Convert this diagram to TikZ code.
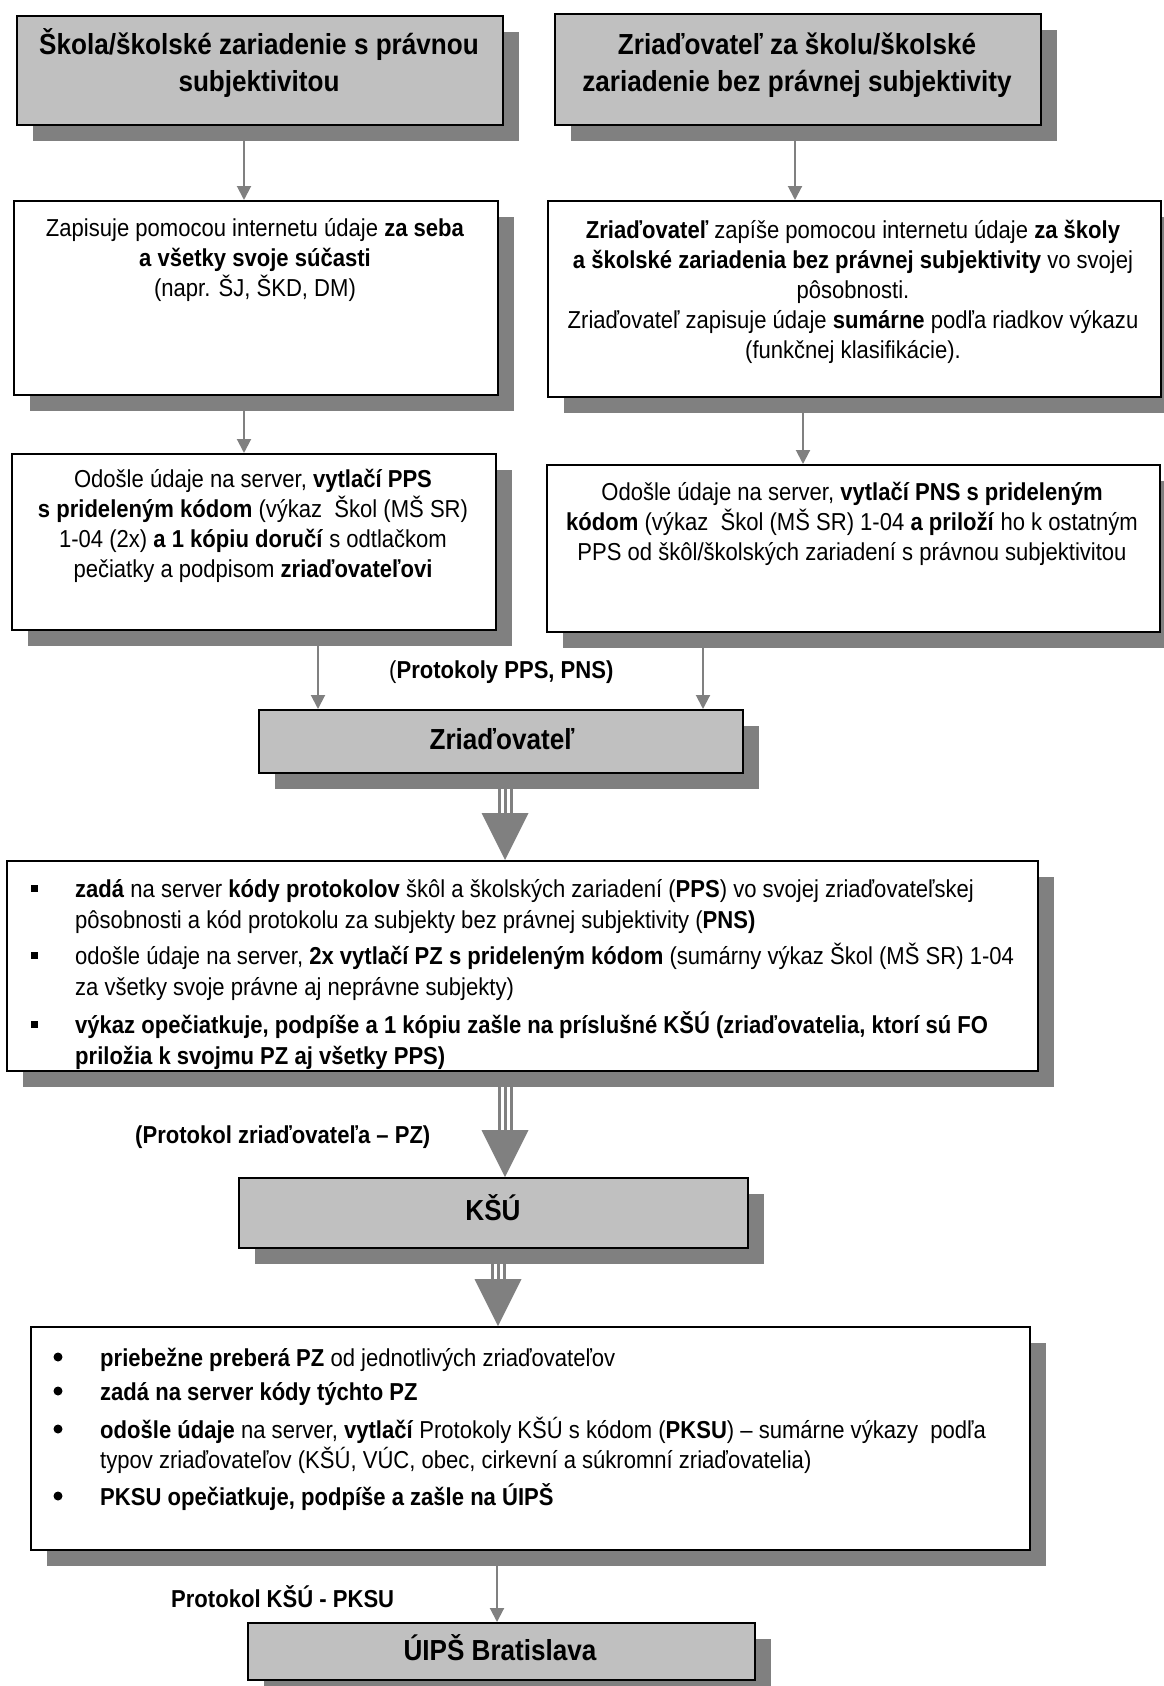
\documentclass[tikz,border=0pt]{standalone}
\usepackage{fontspec}
\setmainfont{Liberation Sans}[FakeStretch=0.9]
\usetikzlibrary{arrows.meta,shadows}
\definecolor{boxgrey}{HTML}{C0C0C0}
\definecolor{shadowgrey}{HTML}{808080}
\tikzset{
  flowbox/.style={draw=black, line width=2pt, anchor=north west, inner sep=0pt,
    drop shadow={shadow xshift=16pt, shadow yshift=-16pt, opacity=1, fill=shadowgrey}},
  greybox/.style={flowbox, fill=boxgrey},
  whitebox/.style={flowbox, fill=white},
  headtext/.style={font=\fontsize{29}{36}\selectfont\bfseries, align=center, anchor=base, inner sep=0pt},
  bodytext/.style={font=\fontsize{24.5}{30}\selectfont, align=center, anchor=base, inner sep=0pt},
  listtext/.style={font=\fontsize{24.5}{31}\selectfont, align=left, anchor=base west, inner sep=0pt},
  arr/.style={draw=shadowgrey, line width=2pt, -{Triangle[width=14pt,length=14pt]}},
  shaft/.style={draw=shadowgrey, line width=3pt},
}
\begin{document}
\begin{tikzpicture}[x=1pt, y=-1pt]
\useasboundingbox (0,0) rectangle (1164,1686);

\node[greybox, minimum width=486pt, minimum height=109pt] (skola) at (16,15) {};
\node[greybox, minimum width=486pt, minimum height=111pt] (zriadB) at (554,13) {};
\node[whitebox, minimum width=484pt, minimum height=194pt] (zapisC) at (13,200) {};
\node[whitebox, minimum width=613pt, minimum height=196pt] (zapisD) at (547,200) {};
\node[whitebox, minimum width=484pt, minimum height=176pt] (odosleE) at (11,453) {};
\node[whitebox, minimum width=613pt, minimum height=167pt] (odosleF) at (546,464) {};
\node[greybox, minimum width=484pt, minimum height=63pt] (zriad) at (258,709) {};
\node[whitebox, minimum width=1031pt, minimum height=210pt] (zadanie) at (6,860) {};
\node[greybox, minimum width=509pt, minimum height=70pt] (ksu) at (238,1177) {};
\node[whitebox, minimum width=999pt, minimum height=223pt] (preberanie) at (30,1326) {};
\node[greybox, minimum width=507pt, minimum height=57pt] (uips) at (247,1622) {};

% multi-line texts sit on the baseline of their last line
\node[headtext] (skolaT) at (259,91) {Škola/školské zariadenie s právnou\\subjektivitou};
\node[headtext] (zriadBT) at (797,91) {Zriaďovateľ za školu/školské\\zariadenie bez právnej subjektivity};

\node[bodytext] (zapisCT) at (255,296) {Zapisuje pomocou internetu údaje \textbf{za seba}\\\textbf{a všetky svoje súčasti}\\(napr. ŠJ, ŠKD, DM)};
\node[bodytext] (zapisDT) at (853,358) {\textbf{Zriaďovateľ} zapíše pomocou internetu údaje \textbf{za školy}\\\textbf{a školské zariadenia bez právnej subjektivity} vo svojej\\pôsobnosti.\\Zriaďovateľ zapisuje údaje \textbf{sumárne} podľa riadkov výkazu\\(funkčnej klasifikácie).};
\node[bodytext] (odosleET) at (253,577) {Odošle údaje na server, \textbf{vytlačí PPS}\\\textbf{s prideleným kódom} (výkaz\ \ Škol (MŠ SR)\\1-04 (2x) \textbf{a 1 kópiu doručí} s odtlačkom\\pečiatky a podpisom \textbf{zriaďovateľovi}};
\node[bodytext] (odosleFT) at (852,560) {Odošle údaje na server, \textbf{vytlačí PNS s prideleným}\\\textbf{kódom} (výkaz\ \ Škol (MŠ SR) 1-04 \textbf{a priloží} ho k ostatným\\PPS od škôl/školských zariadení s právnou subjektivitou};

\node[bodytext, anchor=base west] (ppsT) at (389,678) {(\textbf{Protokoly PPS, PNS)}};
\node[headtext] (zriadT) at (502,749) {Zriaďovateľ};

\begin{scope}
\clip (zadanie.north west) rectangle ([yshift=2pt]zadanie.south east);
\node[listtext] (h1) at (75,928) {\textbf{zadá} na server \textbf{kódy protokolov} škôl a školských zariadení (\textbf{PPS}) vo svojej zriaďovateľskej\\pôsobnosti a kód protokolu za subjekty bez právnej subjektivity (\textbf{PNS)}};
\node[listtext] (h2) at (75,995) {odošle údaje na server, \textbf{2x vytlačí PZ s prideleným kódom} (sumárny výkaz Škol (MŠ SR) 1-04\\za všetky svoje právne aj neprávne subjekty)};
\node[listtext] (h3) at (75,1064) {\textbf{výkaz opečiatkuje, podpíše a 1 kópiu zašle na príslušné KŠÚ (zriaďovatelia, ktorí sú FO}\\\textbf{priložia k svojmu PZ aj všetky PPS)}};
\end{scope}
\foreach \y in {897,964,1033}
  \fill (30.5,\y-12.5) rectangle ++(7,7);

\node[bodytext, anchor=base west, font=\fontsize{24.5}{30}\selectfont\bfseries] (pzT) at (135,1143) {(Protokol zriaďovateľa – PZ)};
\node[headtext] (ksuT) at (493,1220) {KŠÚ};

\node[listtext] (j1) at (100,1366) {\textbf{priebežne preberá PZ} od jednotlivých zriaďovateľov};
\node[listtext] (j2) at (100,1400) {\textbf{zadá na server kódy týchto PZ}};
\node[listtext, font=\fontsize{24.5}{30}\selectfont] (j3) at (100,1468) {\textbf{odošle údaje} na server, \textbf{vytlačí} Protokoly KŠÚ s kódom (\textbf{PKSU}) – sumárne výkazy\ \ podľa\\typov zriaďovateľov (KŠÚ, VÚC, obec, cirkevní a súkromní zriaďovatelia)};
\node[listtext] (j4) at (100,1505) {\textbf{PKSU opečiatkuje, podpíše a zašle na ÚIPŠ}};
\foreach \y in {1366,1400,1438,1505}
  \fill (58,\y-9) circle (4.5);

\node[bodytext, anchor=base west, font=\fontsize{24.5}{30}\selectfont\bfseries] (pksuT) at (171,1607) {Protokol KŠÚ - PKSU};
\node[headtext] (uipsT) at (500,1660) {ÚIPŠ Bratislava};

% thin connectors
\coordinate (xa) at (244,0);
\coordinate (xb) at (795,0);
\coordinate (xd) at (803,0);
\coordinate (xe) at (318,0);
\coordinate (xf) at (703,0);
\coordinate (xj) at (497,0);
\draw[arr] (skola.south -| xa) -- (zapisC.north -| xa);
\draw[arr] (zriadB.south -| xb) -- (zapisD.north -| xb);
\draw[arr] (zapisC.south -| xa) -- (odosleE.north -| xa);
\draw[arr] (zapisD.south -| xd) -- (odosleF.north -| xd);
\draw[arr] (odosleE.south -| xe) -- (zriad.north -| xe);
\draw[arr] (odosleF.south -| xf) -- (zriad.north -| xf);
\draw[arr] (preberanie.south -| xj) -- (uips.north -| xj);

% big striped arrows
\coordinate (xg) at (505,0);
\coordinate (xi) at (498,0);
\foreach \from/\to/\cx in {zriad/zadanie/xg, zadanie/ksu/xg, ksu/preberanie/xi} {
  \foreach \dx in {-6,0,6}
    \draw[shaft] ([xshift=\dx pt]\from.south -| \cx) -- ([xshift=\dx pt, yshift=46pt]\to.north -| \cx);
  \fill[shadowgrey] ([xshift=-23.5pt, yshift=47pt]\to.north -| \cx) -- ([xshift=23.5pt, yshift=47pt]\to.north -| \cx) -- (\to.north -| \cx) -- cycle;
}

\end{tikzpicture}
\end{document}
